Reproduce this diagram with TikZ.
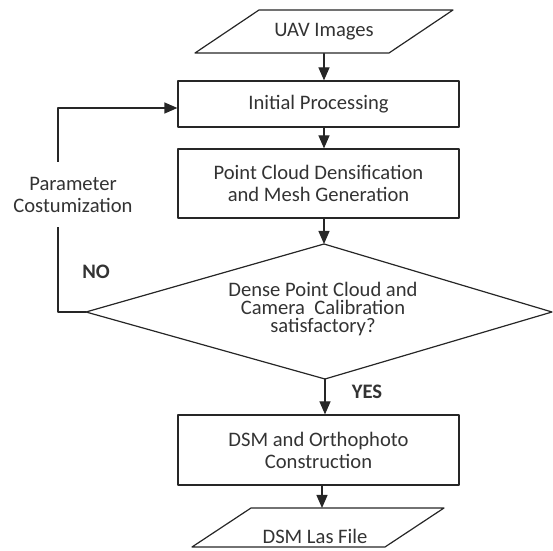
\documentclass[tikz,border=0pt]{standalone}
\usepackage{fontspec}
\setmainfont{Carlito}
\usetikzlibrary{arrows.meta}
\newcommand\figfont{\fontsize{10.3}{11}\selectfont}
\tikzset{
  procbox/.style={draw,rectangle,minimum width=140.5pt,inner sep=0pt,align=center},
  iotext/.style={rectangle,minimum width=97pt,minimum height=21.5pt,inner sep=0pt,align=center},
}
\begin{document}
\begin{tikzpicture}[x=0.5pt,y=-0.5pt,font=\figfont,line join=round,line cap=round,
    >={Triangle[length=6.5pt,width=5.5pt]},line width=0.6pt,draw=black!85,text=black!80]
	\useasboundingbox (0,0) rectangle (553,551);
	\node[iotext] (uav) at (324,31.5) {UAV Images};
	\draw ([shift={(-65,-21.5)}]uav.center) -- ++(194,0) -- ++(-64,43) -- ++(-194,0) -- cycle;
	\node[procbox,minimum height=23pt] (init) at (318.5,104) {Initial Processing};
	\node[procbox,minimum height=34.5pt] (pcd) at (318.5,183.5) {Point Cloud Densification\\and Mesh Generation};
	% decision
	\coordinate (dtop) at (324,244);
	\coordinate (dleft) at (86,312);
	\coordinate (dright) at (552,312);
	\coordinate (dbot) at (325,379);
	\draw (dtop) -- (dright) -- (dbot) -- (dleft) -- cycle;
	\node[font=\fontsize{10.3}{9}\selectfont,align=center,inner sep=0pt] (check) at (323,309) {Dense Point Cloud and\\Camera\ \ Calibration\\satisfactory?};
	\node[procbox,minimum height=35pt] (dsm) at (318.5,450) {DSM and Orthophoto\\Construction};
	\node[iotext] (las) at (315,536) {DSM Las File};
	\coordinate (lastop) at (322,508);
	\draw ([shift={(-64,-28)}]las.center) -- ++(193,0) -- ++(-59,39) -- ++(-193,0) -- cycle;
	% main flow
	\draw[->] (uav.south) -- (uav.south |- init.north);
	\draw[->] (init.south -| uav.south) -- (pcd.north -| uav.south);
	\draw[->] (pcd.south -| uav.south) -- (dtop);
	\draw[->] (dbot) -- (dbot |- dsm.north);
	\draw[->] (dsm.south -| lastop) -- (lastop);
	\node[font=\figfont\bfseries] (yes) at (367,392) {YES};
	% loop back
	\coordinate (bendlow) at (58,312);
	\coordinate (bendup) at (58,108);
	\draw[->] (dleft) -- (bendlow) -- (bendup) -- (bendup -| init.west);
	\node[fill=white,align=center,minimum height=32.5pt,inner sep=1pt] (param) at (73,195) {Parameter\\Costumization};
	\node[font=\figfont\bfseries] (no) at (96,272) {NO};
\end{tikzpicture}
\end{document}
